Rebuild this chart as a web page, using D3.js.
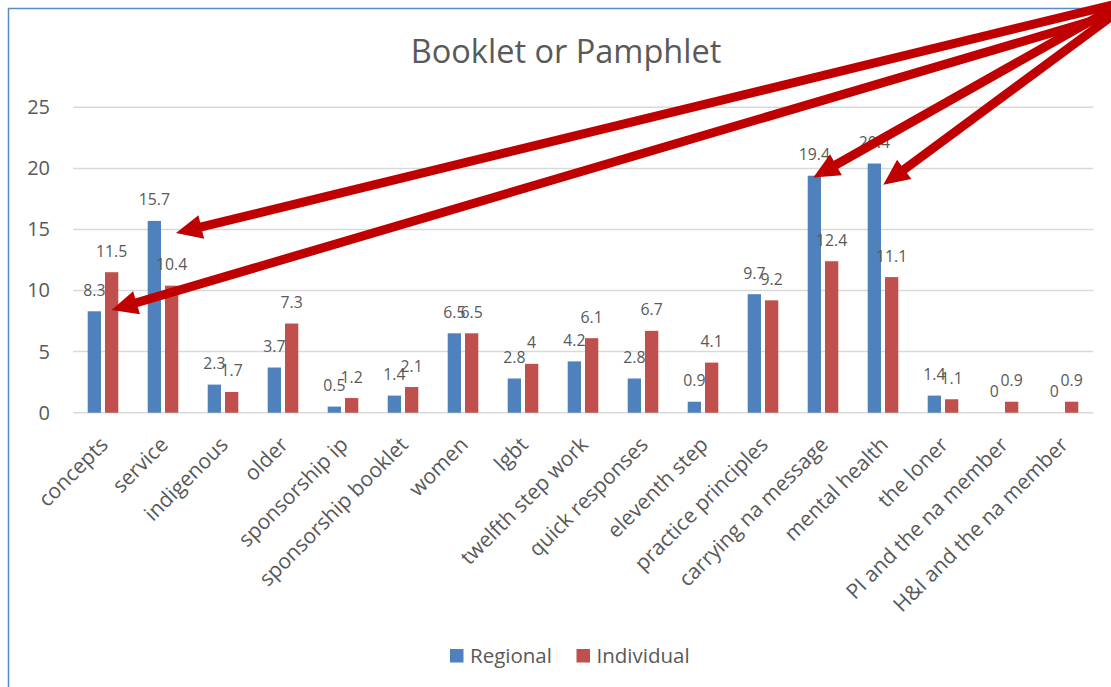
<!DOCTYPE html>
<html>
<head>
<meta charset="utf-8">
<script src="https://cdn.jsdelivr.net/npm/d3@7"></script>
<style>
  html, body { margin: 0; padding: 0; background: #fff; }
  svg { display: block; }
  text { font-family: "Open Sans", "Noto Sans", sans-serif; fill: #595959; }
</style>
</head>
<body>
<script>
const categories = ["concepts", "service", "indigenous", "older", "sponsorship ip", "sponsorship booklet", "women", "lgbt", "twelfth step work", "quick responses", "eleventh step", "practice principles", "carrying na message", "mental health", "the loner", "PI and the na member", "H&I and the na member"];
const regional = [8.3, 15.7, 2.3, 3.7, 0.5, 1.4, 6.5, 2.8, 4.2, 2.8, 0.9, 9.7, 19.4, 20.4, 1.4, 0, 0];
const individual = [11.5, 10.4, 1.7, 7.3, 1.2, 2.1, 6.5, 4, 6.1, 6.7, 4.1, 9.2, 12.4, 11.1, 1.1, 0.9, 0.9];
const seriesNames = ["Regional", "Individual"];
const yTicks = [0, 5, 10, 15, 20, 25];
const chartTitle = "Booklet or Pamphlet";
// annotation arrows: which category / value each arrow points at
const arrowTargets = [
  { category: "service", value: 14.7 },
  { category: "concepts", value: 8.4 },
  { category: "carrying na message", value: 19.25 },
  { category: "mental health", value: 18.65 }
];

const W = 1111, H = 687;
const colors = { Regional: "#4F81BD", Individual: "#C0504D" };

const svg = d3.select("body").append("svg").attr("width", W).attr("height", H);

// chart border (cropped frame)
svg.append("rect").attr("x", 8.5).attr("y", 8.5).attr("width", 1300).attr("height", 1000)
  .attr("fill", "none").attr("stroke", "#5B8ACB").attr("stroke-width", 1.5);

const x = d3.scaleBand().domain(categories).range([73.3, 1093.3]).paddingInner(0).paddingOuter(0);
const x1 = d3.scaleBand().domain(seriesNames).range([-15.6, 15]).paddingInner(0.231).paddingOuter(0);
const y = d3.scaleLinear().domain([0, 25]).range([412.7, 107.3]);

// gridlines
svg.append("g").selectAll("line").data(yTicks).join("line")
  .attr("x1", 73.3).attr("x2", 1093.3)
  .attr("y1", d => y(d)).attr("y2", d => y(d))
  .attr("stroke", "#D9D9D9").attr("stroke-width", 1.5);

// y axis labels
const yAxis = d3.axisLeft(y).tickValues(yTicks).tickSize(0).tickPadding(0).tickFormat(d3.format("d"));
const gy = svg.append("g").attr("transform", "translate(50,0)").call(yAxis);
gy.select(".domain").remove();
gy.selectAll("text").style("font-size", "20px").attr("fill", "#595959")
  .style("font-family", "'Open Sans', sans-serif");

// bars
const data = categories.map((c, i) => ({ c, vals: [{ s: "Regional", v: regional[i] }, { s: "Individual", v: individual[i] }] }));
const groups = svg.append("g").selectAll("g").data(data).join("g")
  .attr("transform", d => `translate(${x(d.c) + x.bandwidth() / 2},0)`);
groups.selectAll("rect").data(d => d.vals).join("rect")
  .attr("x", d => x1(d.s)).attr("width", x1.bandwidth())
  .attr("y", d => y(d.v)).attr("height", d => y(0) - y(d.v))
  .attr("fill", d => colors[d.s]);

// data labels
groups.selectAll("text.lbl").data(d => d.vals).join("text").attr("class", "lbl")
  .attr("x", d => x1(d.s) + x1.bandwidth() / 2)
  .attr("y", d => y(d.v) - 15.5)
  .attr("text-anchor", "middle")
  .style("font-size", "15.8px")
  .text(d => d.v);

// x axis category labels
const gx = svg.append("g");
gx.selectAll("text").data(categories).join("text")
  .attr("transform", d => `translate(${x(d) + x.bandwidth() / 2 + 6},446) rotate(-45)`)
  .attr("text-anchor", "end")
  .style("font-size", "21px")
  .text(d => d);

// title
svg.append("text").attr("x", 566).attr("y", 63).attr("text-anchor", "middle")
  .style("font-size", "32.5px").text(chartTitle);

// legend
const leg = svg.append("g");
const legItems = [{ s: "Regional", x: 450 }, { s: "Individual", x: 576.5 }];
legItems.forEach(it => {
  leg.append("rect").attr("x", it.x).attr("y", 649).attr("width", 13.5).attr("height", 13.5).attr("fill", colors[it.s]);
  leg.append("text").attr("x", it.x + 20).attr("y", 662.5).style("font-size", "20.5px").text(it.s);
});

// annotation arrows
const arrowSpecs = [
  { dx: 12.7, origin: [1112, 5] },
  { dx: 8.3, origin: [1112, 15] },
  { dx: -10, origin: [1112, 9] },
  { dx: 0, origin: [1112, 16] }
];
const red = "#C00000";
const ag = svg.append("g");
arrowTargets.forEach((t, i) => {
  const sp = arrowSpecs[i];
  const tip = [x(t.category) + x.bandwidth() / 2 + sp.dx, y(t.value)];
  const o = sp.origin;
  const vx = o[0] - tip[0], vy = o[1] - tip[1];
  const len = Math.hypot(vx, vy);
  const ux = vx / len, uy = vy / len;
  const headLen = 26, headHalf = 12;
  const base = [tip[0] + ux * headLen, tip[1] + uy * headLen];
  const px = -uy, py = ux;
  ag.append("line")
    .attr("x1", o[0]).attr("y1", o[1])
    .attr("x2", base[0] - ux * 2).attr("y2", base[1] - uy * 2)
    .attr("stroke", red).attr("stroke-width", 9);
  ag.append("polygon")
    .attr("points", [tip, [base[0] + px * headHalf, base[1] + py * headHalf], [base[0] - px * headHalf, base[1] - py * headHalf]].map(p => p.join(",")).join(" "))
    .attr("fill", red);
});
</script>
</body>
</html>
